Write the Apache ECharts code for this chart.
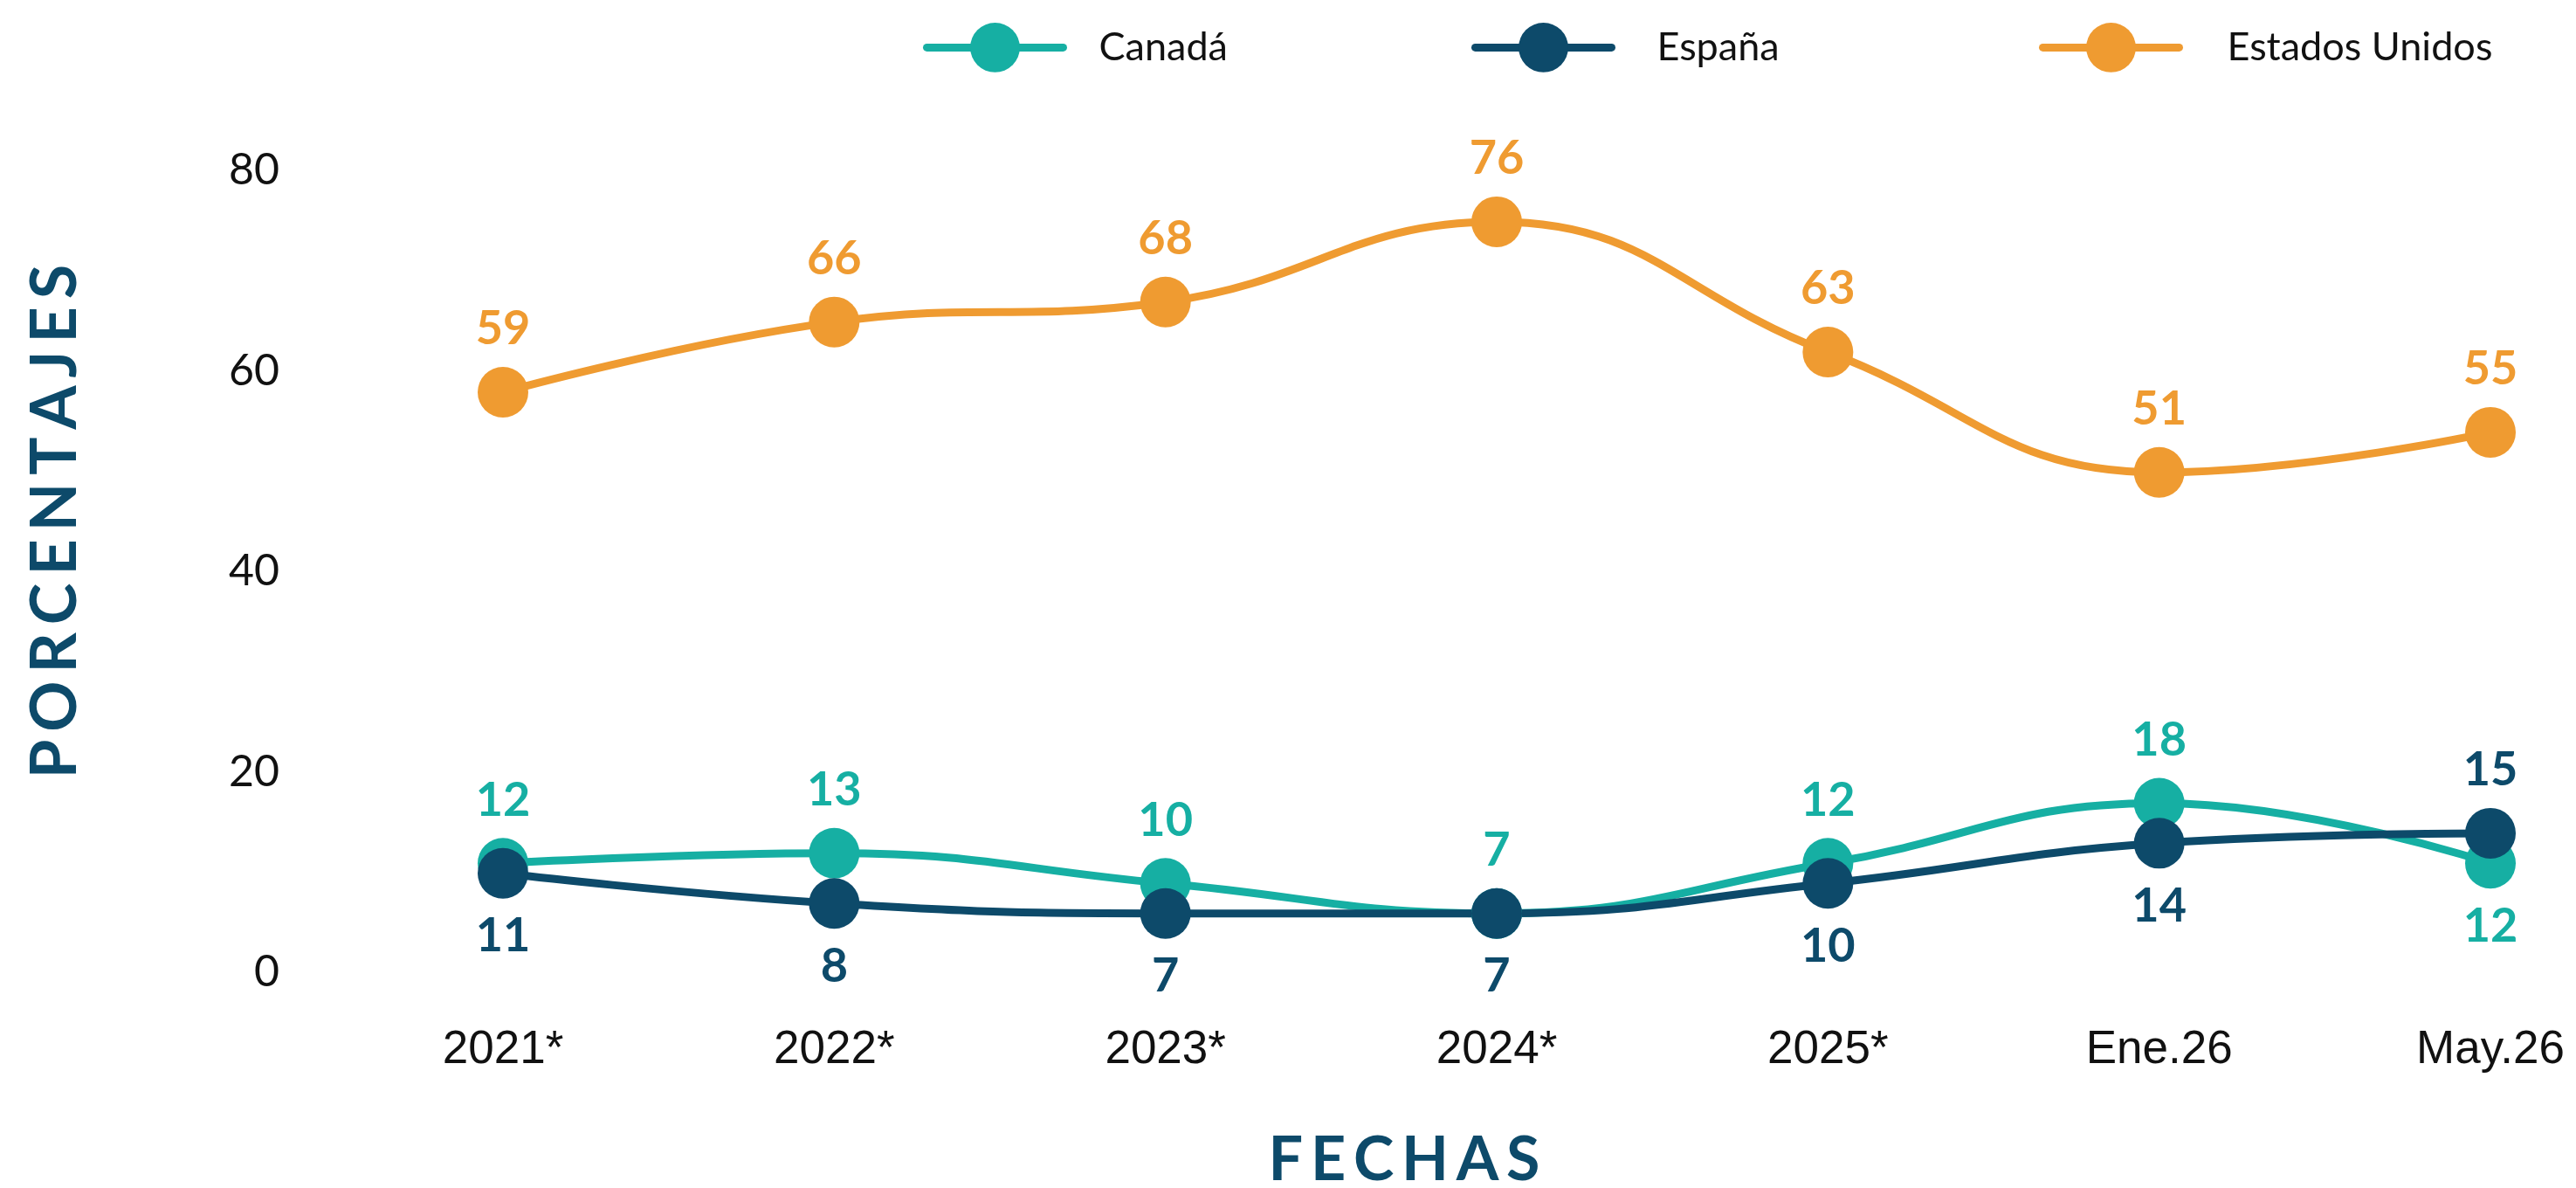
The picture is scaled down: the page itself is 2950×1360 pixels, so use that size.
<!DOCTYPE html>
<html>
<head>
<meta charset="utf-8">
<title>Porcentajes por fecha</title>
<script src="https://cdn.jsdelivr.net/npm/echarts@6/dist/echarts.min.js"></script>
<style>
  html, body { margin: 0; padding: 0; background: #fff; }
  #chart { width: 2950px; height: 1360px; }
</style>
</head>
<body>
<div id="chart"></div>
<script>
// datos
const categories = ['2021*', '2022*', '2023*', '2024*', '2025*', 'Ene.26', 'May.26']
const canada = [12, 13, 10, 7, 12, 18, 12]
const espana = [11, 8, 7, 7, 10, 14, 15]
const eeuu = [59, 66, 68, 76, 63, 51, 55]
const yMin = 0
const yMax = 80
const yStep = 20

const TEAL = '#16AFA3'
const NAVY = '#0D4A6A'
const ORANGE = '#EF9B31'

const chart = echarts.init(document.getElementById('chart'))

// espaciado entre letras de los titulos
function spaced(txt) {
  return txt.split('').join('\u200A\u200A')
}

function labelFor(color, pos) {
  return {
    show: true,
    position: pos,
    distance: 16,
    color: color,
    fontFamily: 'Lato',
    fontWeight: 'bold',
    fontSize: 54
  }
}

// la ultima fecha invierte la posicion de etiqueta entre Canadá y España
function withLabels(values, color, pos, lastPos) {
  return values.map((v, i) => {
    if (i === values.length - 1 && lastPos) {
      return { value: v, label: labelFor(color, lastPos) }
    }
    return v
  })
}

function lineSeries(name, values, color, pos, lastPos) {
  return {
    name: name,
    type: 'line',
    smooth: 0.45,
    symbol: 'circle',
    symbolSize: 58,
    lineStyle: { width: 9, color: color },
    itemStyle: { color: color },
    label: labelFor(color, pos),
    data: withLabels(values, color, pos, lastPos),
    animation: false
  }
}

function legendAt(name, left, gap) {
  return {
    data: [name],
    left: left,
    top: 26,
    padding: 0,
    itemWidth: 156,
    itemHeight: 71,
    lineStyle: { width: 9, cap: 'round' },
    textStyle: {
      fontFamily: 'Lato',
      fontSize: 45,
      color: '#111',
      padding: [0, 0, 0, gap]
    }
  }
}

chart.setOption({
  backgroundColor: '#fff',
  legend: [
    legendAt('Canadá', 1057, 36),
    legendAt('España', 1685, 47),
    legendAt('Estados Unidos', 2335, 50)
  ],
  grid: {
    left: 576,
    right: 98,
    top: 208,
    bottom: 234,
    containLabel: false
  },
  xAxis: {
    type: 'category',
    boundaryGap: false,
    data: categories,
    axisLine: { show: false },
    axisTick: { show: false },
    splitLine: { show: false },
    axisLabel: {
      margin: 50,
      fontFamily: 'Liberation Sans',
      fontSize: 53,
      color: '#111'
    }
  },
  yAxis: {
    type: 'value',
    min: yMin,
    max: yMax,
    interval: yStep,
    axisLine: { show: false },
    axisTick: { show: false },
    splitLine: { show: false },
    axisLabel: {
      margin: 256,
      fontFamily: 'Lato',
      fontSize: 50,
      color: '#111',
      verticalAlign: 'bottom',
      lineHeight: 26
    }
  },
  graphic: [
    {
      type: 'text',
      x: 64,
      y: 597,
      rotation: Math.PI / 2,
      style: {
        text: spaced('PORCENTAJES'),
        fill: NAVY,
        font: 'bold 72px Lato',
        textAlign: 'center',
        textVerticalAlign: 'middle'
      }
    },
    {
      type: 'text',
      x: 1608,
      y: 1328,
      style: {
        text: spaced('FECHAS'),
        fill: NAVY,
        font: 'bold 70px Lato',
        textAlign: 'center',
        textVerticalAlign: 'middle'
      }
    }
  ],
  series: [
    lineSeries('Canadá', canada, TEAL, 'top', 'bottom'),
    lineSeries('España', espana, NAVY, 'bottom', 'top'),
    lineSeries('Estados Unidos', eeuu, ORANGE, 'top')
  ]
})
</script>
</body>
</html>
